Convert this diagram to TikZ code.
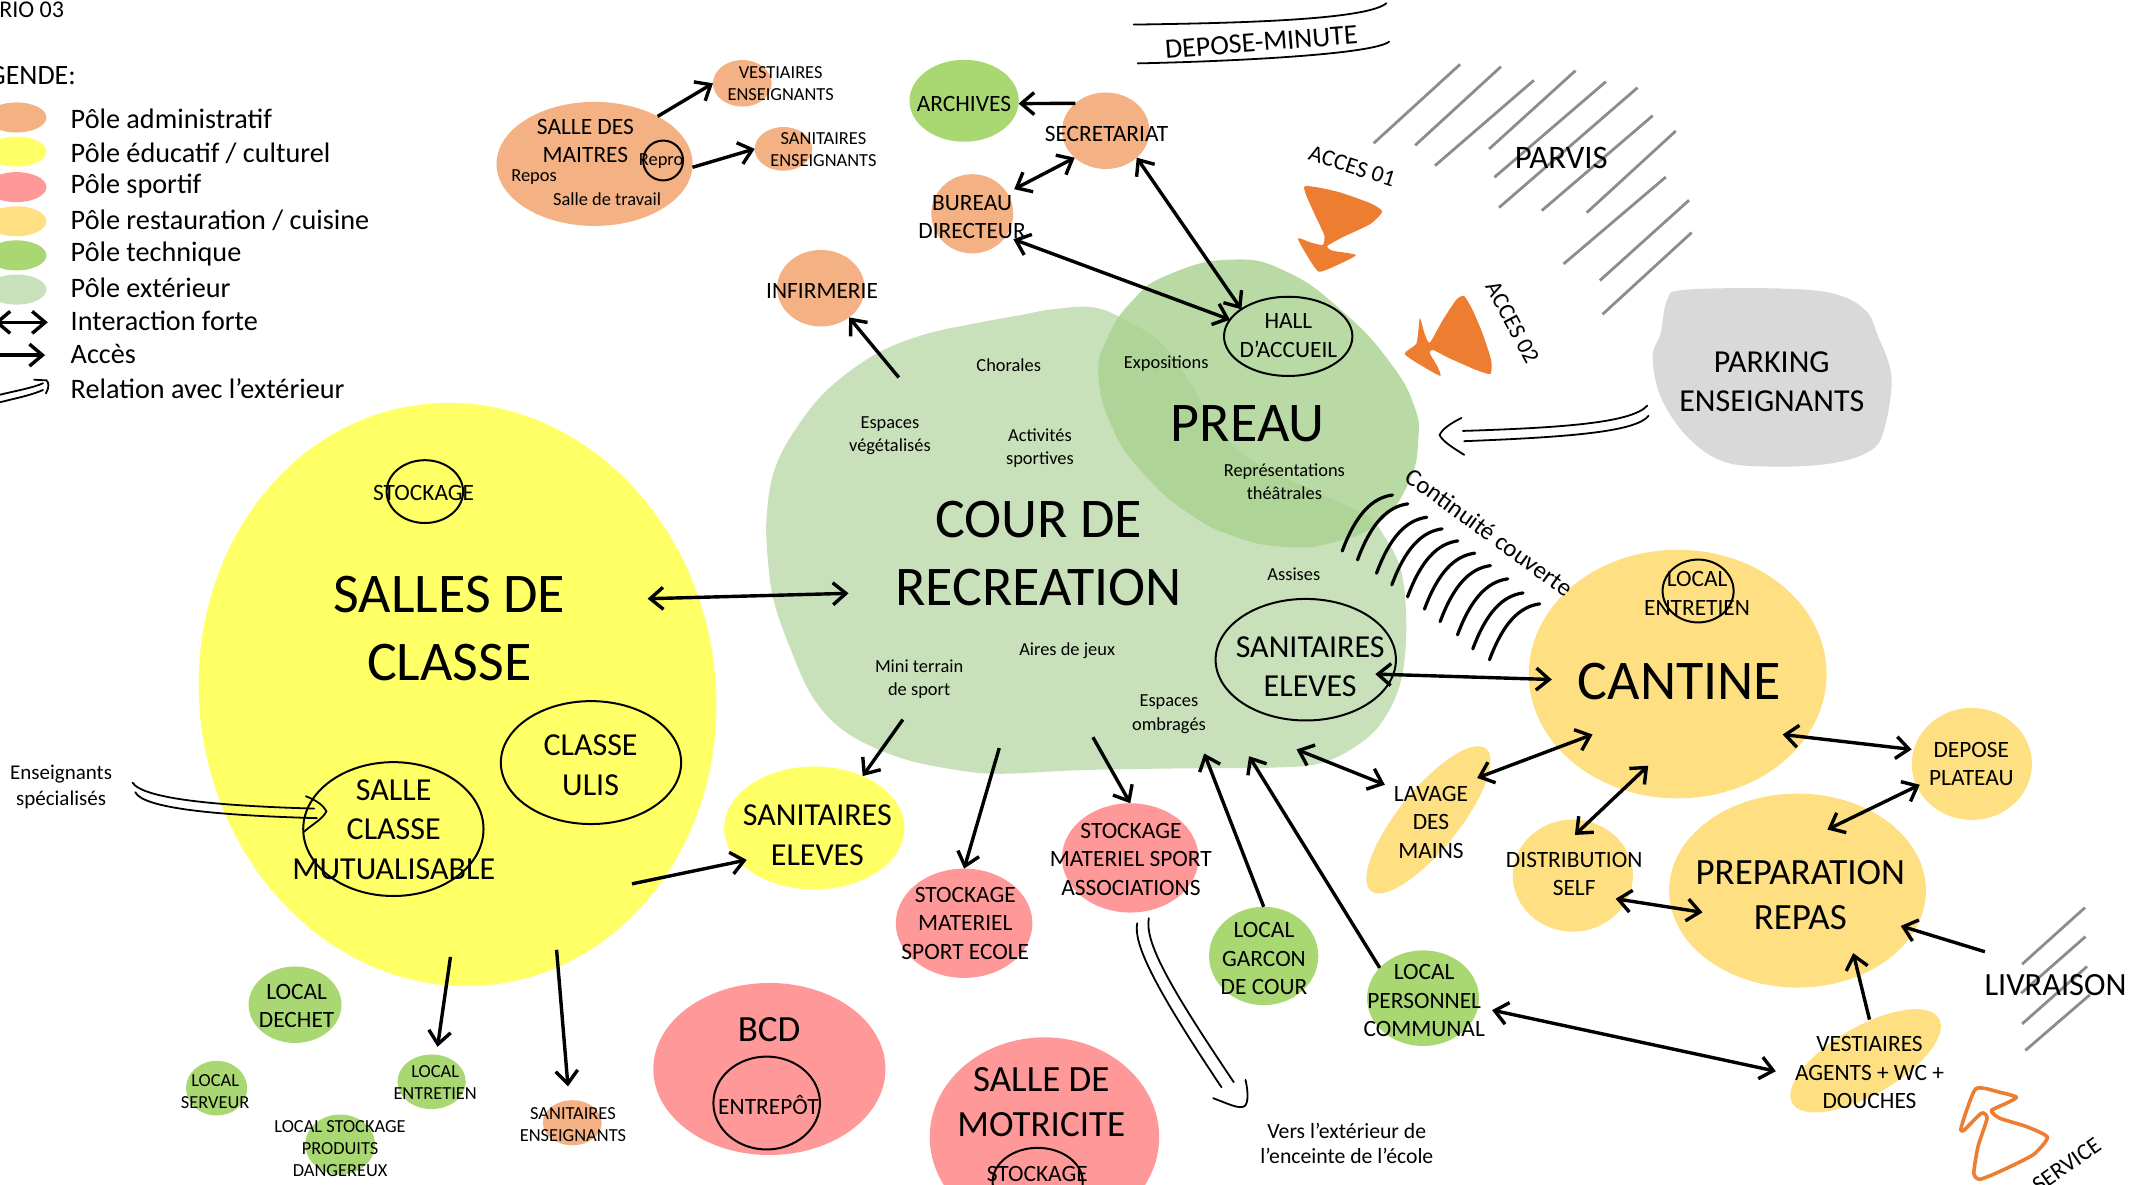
\documentclass[tikz,border=0pt]{standalone}
\usepackage{fontspec}
\setmainfont{Carlito}
\usetikzlibrary{shapes.geometric,arrows.meta}
\definecolor{cadm}{HTML}{F4B183}
\definecolor{cedu}{HTML}{FFFF66}
\definecolor{cspo}{HTML}{FF9999}
\definecolor{ccui}{HTML}{FEE083}
\definecolor{ctec}{HTML}{A9D873}
\definecolor{cext}{HTML}{C9E1BB}
\definecolor{cpre}{HTML}{A9D18E}
\definecolor{cpar}{HTML}{D9D9D9}
\definecolor{cora}{HTML}{ED7D31}
\definecolor{chat}{HTML}{8C8C8C}
\tikzset{
  >={Straight Barb[length=6.5pt,width=11pt]},
  blobst/.style={shape=ellipse,inner sep=0pt,outer sep=0pt,draw=none},
  ringst/.style={shape=ellipse,inner sep=0pt,outer sep=0pt,draw=black,line width=1pt,fill=none},
  txt/.style={inner sep=0pt,align=center,text=black},
  tbig/.style={txt,font=\fontsize{28}{34}\selectfont},
  tlarge/.style={txt,font=\fontsize{18.5}{22.5}\selectfont},
  tmed/.style={txt,font=\fontsize{16}{19.8}\selectfont},
  tsm/.style={txt,font=\fontsize{11.7}{14.2}\selectfont},
  txs/.style={txt,font=\fontsize{9.2}{11}\selectfont},
  tleg/.style={txt,anchor=west,font=\fontsize{14.1}{16}\selectfont},
  arr/.style={->,line width=1.7pt},
  darr/.style={<->,line width=1.7pt},
  dbl/.style={line width=.9pt,line cap=round},
  hatchl/.style={chat,line width=1.4pt},
  arc/.style={line width=1.6pt,line cap=round},
}
\newcommand{\blob}[6]{\node[blobst,fill=#6,minimum width={2*#4*0.683pt},minimum height={2*#5*0.683pt}] (#1) at (#2,#3) {};}
\newcommand{\rblob}[7]{\node[blobst,fill=#6,rotate=#7,minimum width={2*#4*0.683pt},minimum height={2*#5*0.683pt}] (#1) at (#2,#3) {};}
\newcommand{\ring}[5]{\node[ringst,minimum width={2*#4*0.683pt},minimum height={2*#5*0.683pt}] (#1) at (#2,#3) {};}
\begin{document}
\begin{tikzpicture}[x=0.683pt,y=-0.683pt]
\useasboundingbox (0,0) rectangle (1562.4,866.9);
\clip (0,0) rectangle (1562.4,866.9);
% ---------- legend
\node[tleg,font=\fontsize{12}{14}\selectfont] (tscen) at (-11,7) {ARIO 03};
\node[tleg,font=\fontsize{14}{16}\selectfont] (tleg0) at (-9,55) {GENDE:};
\blob{l1}{12}{86}{22}{11}{cadm}
\blob{l2}{12}{111}{22}{11}{cedu}
\blob{l3}{12}{137}{22}{11}{cspo}
\blob{l4}{12}{162}{22}{11}{ccui}
\blob{l5}{12}{187}{22}{11}{ctec}
\blob{l6}{12}{212}{22}{11}{cext}
\node[tleg] (tl1) at (51.5,87) {Pôle administratif};
\node[tleg] (tl2) at (51.5,112) {Pôle éducatif / culturel};
\node[tleg] (tl3) at (51.5,136.5) {Pôle sportif};
\node[tleg] (tl4) at (51.5,161) {Pôle restauration / cuisine};
\node[tleg] (tl5) at (51.5,186) {Pôle technique};
\node[tleg] (tl6) at (51.5,210.5) {Pôle extérieur};
\node[tleg] (tl7) at (51.5,235) {Interaction forte};
\node[tleg] (tl8) at (51.5,259.5) {Accès};
\node[tleg] (tl9) at (51.5,284.5) {Relation avec l’extérieur};
\coordinate (la1) at (-4,236); \coordinate (la2) at (35,236);
\coordinate (lb1) at (-10,260); \coordinate (lb2) at (33,260);
\draw[darr] (la1) -- (la2);
\draw[arr] (lb1) -- (lb2);
\coordinate (lc1) at (0,289); \coordinate (lc2) at (31.5,280.6);
\coordinate (lc3) at (0,294.5); \coordinate (lc4) at (31.5,285.5);
\draw[dbl] (lc1) .. controls (12,286) and (24,284) .. (lc2);
\draw[dbl] (lc3) .. controls (12,291.5) and (24,289) .. (lc4);
\draw[dbl] (25,278) -- (34,278.5) .. controls (36,280) and (36,284) .. (33.6,288);
% ---------- big exterior shapes
\fill[cext] plot[smooth cycle,tension=.6] coordinates {(799,224.8)(768.8,226.7)(747.5,230.6)(712,237.1)(676.5,245)(641,259.3)(605.6,285.5)(580.7,316.9)(566.5,345.6)(561.2,379.6)(562.3,411)(566.5,439.7)(577.2,471.1)(594.9,510.3)(619.8,536.4)(658.8,554.7)(701.4,563.9)(733.3,566.5)(790,563.9)(861,562.6)(932,562)(967.5,558.6)(995.8,544.3)(1013.6,526)(1026,497.2)(1029.6,458)(1026,418.8)(1013.6,392.7)(999.4,377)(960.4,358.7)(917.8,337.8)(889.4,311.6)(871.7,280.3)(850.4,251.5)(822,233.2)};
\fill[cpre,opacity=.8] plot[smooth cycle,tension=.8] coordinates {(804.2,275)(811.3,246.3)(829.1,220.1)(853.9,201.8)(900.1,190.1)(942.6,199.2)(985.2,230)(1017.1,264.6)(1034.9,295.9)(1038.4,322.1)(1031.3,353.5)(1010,382.2)(978.1,396.6)(942.6,400.5)(903.6,392.7)(868.1,374.4)(836.2,345.6)(814.9,314.2)};
\fill[cpar] plot[smooth cycle,tension=.6] coordinates {(1215.8,244)(1220.6,219.6)(1232.7,212.3)(1297.9,211.1)(1341.3,214.7)(1365.5,226.9)(1375.1,246.4)(1384.8,275.7)(1380,312.3)(1370.3,329.4)(1341.3,339.2)(1297.9,341.6)(1261.7,337.9)(1235.1,319.6)(1215.8,290.4)(1210,261.1)};
% orange access shapes
\fill[cora] plot[smooth cycle,tension=.35] coordinates {(955,136.6)(979.1,140.3)(1003.3,148.8)(1012,154.9)(1003.3,164)(984,173.2)(971.9,180)(975.3,183.5)(992.7,186.7)(979.1,194)(965.6,198.9)(957.4,187.9)(950.2,174.5)(959.8,177.6)(968.5,179.3)(969.5,172)(962.2,156.2)};
\fill[cora] plot[smooth cycle,tension=.35] coordinates {(1071.9,216.7)(1078.1,226.9)(1085.4,244)(1091.7,263.5)(1091.2,273.8)(1080.6,270.8)(1061.2,262.3)(1049.2,256.2)(1046.8,258.6)(1052.5,268.4)(1054.5,275.2)(1041.9,268.4)(1028.4,259.1)(1037.1,251.3)(1039.5,233)(1042.9,244)(1046.8,250.8)(1056.4,234.2)(1066.1,219.6)};
% hatch
\foreach \a/\b/\c/\d in {1005.7/104.9/1069/47.1,1036.1/106.4/1098.9/48.8,1050.6/121.3/1123/58.8,1090.2/109.1/1153.5/51.7,1094.1/129.8/1175.7/59.8,1097.5/152/1198.9/64.2,1128.8/154.2/1210/84.7,1161.7/155.7/1226.9/95.9,1144.8/193.2/1219.6/129.6,1171.3/205.4/1236.6/146.6,1173.3/230.1/1238.5/170.3,1480.5/705.9/1526.5/664.5,1479.7/727.2/1526.9/685.7,1480.5/749.6/1528/707.6,1482.8/769.1/1530/728.4}
  \draw[hatchl] (\a,\b) -- (\c,\d);
% ---------- blobs measured in full-size crops
\blob{maitres}{435.3}{120}{71.8}{45.4}{cadm}
\blob{vest}{543.5}{61}{21.5}{17}{cadm}
\blob{sanens}{573.6}{109}{21}{16}{cadm}
\blob{inf}{601}{211}{32}{28}{cadm}
\blob{dechet}{216}{735.6}{34}{28}{ctec}
\blob{serv}{158.6}{796.7}{22.4}{20}{ctec}
\blob{ent2}{316}{792}{25}{20}{ctec}
\blob{prod}{249}{838}{25.5}{22}{ctec}
\blob{sanens2}{419}{822}{21.5}{16.5}{cadm}
\begin{scope}[scale=.997]
\blob{arch}{708}{74}{40}{30}{ctec}
\blob{secr}{812}{96}{32}{28}{cadm}
\blob{bur}{714}{157}{30}{29}{cadm}
\rblob{salles}{336}{510}{189}{214}{cedu}{8}
\blob{saneduc}{598}{608}{66}{45}{cedu}
\blob{stock1}{708}{678}{50}{40}{cspo}
\blob{stock2}{830}{630}{50}{40}{cspo}
\blob{bcd}{565}{785}{85}{63}{cspo}
\blob{motr}{767}{835}{84}{73}{cspo}
\blob{garc}{928}{702}{40}{36}{ctec}
\blob{perso}{1045}{733}{41}{35}{ctec}
\blob{cant}{1232}{495}{109}{91}{ccui}
\blob{prep}{1320}{654}{94}{71}{ccui}
\blob{dep}{1448}{561}{44}{41}{ccui}
\blob{dist}{1155}{643}{44}{41}{ccui}
\rblob{lav}{1049}{602}{67}{22}{ccui}{51}
\rblob{vagents}{1370}{779}{62}{25}{ccui}{30}
\end{scope}
% ---------- rings
\ring{rrepro}{485.5}{117.5}{14.6}{14.6}
\ring{rsan}{956}{483}{66}{44.5}
\ring{rmut}{288}{607}{66}{49}
\begin{scope}[scale=.997]
\ring{rhall}{946}{247}{47}{29}
\ring{rstock}{312}{361}{28}{23}
\ring{rulis}{434}{560}{66}{45}
\ring{rent}{563}{810}{39}{34}
\ring{rmot}{762}{868}{33}{25}
\ring{rcent}{1247}{434}{26}{23}
\end{scope}
% ---------- texts
\node[tsm] (t1) at (428.6,103) {SALLE DES\\MAITRES};
\node[txs] (t2) at (484,118) {Repro};
\node[txs] (t3) at (391,129.5) {Repos};
\node[txs] (t4) at (444.5,145.5) {Salle de travail};
\begin{scope}[scale=.994,yshift=-.7pt]
\node[txs] (t5) at (575,60.5) {VESTIAIRES\\ENSEIGNANTS};
\node[txs] (t6) at (606.5,109.5) {SANITAIRES\\ENSEIGNANTS};
\node[tsm] (t7) at (710,75.5) {ARCHIVES};
\node[tsm] (t8) at (815,97.5) {SECRETARIAT};
\node[tsm] (t9) at (716,159) {BUREAU\\DIRECTEUR};
\node[tsm] (t10) at (605.5,213.5) {INFIRMERIE};
\node[tsm,font=\fontsize{14}{16}\selectfont,rotate=4.5] (t11) at (929,30) {DEPOSE-MINUTE};
\node[tsm,rotate=-18] (t12) at (996,121.5) {ACCES 01};
\node[tsm,rotate=-62] (t13) at (1114,236.5) {ACCES 02};
\node[tsm,font=\fontsize{16.4}{19}\selectfont] (t14) at (1150,115.5) {PARVIS};
\node[tmed] (t15) at (1305,280) {PARKING\\ENSEIGNANTS};
\node[tsm] (t16) at (949,246) {HALL\\D’ACCUEIL};
\node[txs] (t17) at (859,267) {Expositions};
\node[txs] (t18) at (743,268) {Chorales};
\node[txs,font=\fontsize{9.2}{11.6}\selectfont] (t19) at (655.5,320) {Espaces\\végétalisés};
\node[txs,font=\fontsize{9.2}{11.6}\selectfont] (t20) at (766,329) {Activités\\sportives};
\node[tbig] (t21) at (919,311) {PREAU};
\node[txs,font=\fontsize{9.2}{11.6}\selectfont] (t22) at (946,354) {Représentations\\théâtrales};
\node[tbig] (t23) at (765,407) {COUR DE\\RECREATION};
\node[txs] (t24) at (953,422) {Assises};
\node[tmed] (t25) at (965,490) {SANITAIRES\\ELEVES};
\node[txs,font=\fontsize{9.2}{11.6}\selectfont] (t26) at (677,499) {Mini terrain\\de sport};
\node[txs] (t27) at (786,478) {Aires de jeux};
\node[txs,font=\fontsize{9.2}{11.6}\selectfont] (t28) at (861,525) {Espaces\\ombragés};
\node[tsm,rotate=-36,font=\fontsize{12.4}{14}\selectfont] (t29) at (1097,391) {Continuité couverte};
\node[tsm] (t30) at (1250,436) {LOCAL\\ENTRETIEN};
\node[tbig] (t31) at (1237,501) {CANTINE};
\node[tsm] (t32) at (1452,561.5) {DEPOSE\\PLATEAU};
\node[tsm] (t33) at (1054,604.5) {LAVAGE\\DES\\MAINS};
\node[tsm] (t34) at (1159.5,642.5) {DISTRIBUTION\\SELF};
\node[tlarge] (t35) at (1326,658.5) {PREPARATION\\REPAS};
\node[tsm,font=\fontsize{16.2}{19}\selectfont] (t36) at (1514,724.5) {LIVRAISON};
\node[tsm] (t37) at (1377,789) {VESTIAIRES\\AGENTS + WC +\\DOUCHES};
\node[tsm] (t38) at (1049,736) {LOCAL\\PERSONNEL\\COMMUNAL};
\node[tsm] (t39) at (931,705) {LOCAL\\GARCON\\DE COUR};
\node[tsm] (t40) at (833,632) {STOCKAGE\\MATERIEL SPORT\\ASSOCIATIONS};
\node[tsm] (t41) at (711,679) {STOCKAGE\\MATERIEL\\SPORT ECOLE};
\node[tmed] (t42) at (602,614) {SANITAIRES\\ELEVES};
\node[tbig] (t43) at (331,462) {SALLES DE\\CLASSE};
\node[tsm] (t44) at (312,362) {STOCKAGE};
\node[tmed] (t45) at (435,562.5) {CLASSE\\ULIS};
\node[tmed] (t46) at (290,610) {SALLE\\CLASSE\\MUTUALISABLE};
\node[txs,font=\fontsize{10.5}{13}\selectfont] (t47) at (45,578.5) {Enseignants\\spécialisés};
\node[tsm] (t48) at (218.5,740) {LOCAL\\DECHET};
\node[txs] (t49) at (158.5,803) {LOCAL\\SERVEUR};
\node[txs] (t50) at (320.5,796) {LOCAL\\ENTRETIEN};
\node[txs] (t51) at (250.5,845) {LOCAL STOCKAGE\\PRODUITS\\DANGEREUX};
\node[txs] (t52) at (422,827) {SANITAIRES\\ENSEIGNANTS};
\node[tlarge] (t53) at (566.5,757) {BCD};
\node[tsm] (t54) at (566,813) {ENTREPÔT};
\node[tlarge] (t55) at (767,811) {SALLE DE\\MOTRICITE};
\node[tsm] (t56) at (764,864) {STOCKAGE};
\node[txs,font=\fontsize{10.85}{12.4}\selectfont] (t57) at (992,841) {Vers l’extérieur de\\l’enceinte de l’école};
\end{scope}
\node[tsm,rotate=35] (t58) at (1513,853) {SERVICE};
% ---------- named ends
\begin{scope}[scale=.994]
\coordinate (c-inf) at (662,278);
\coordinate (s-cour) at (477,441);
\coordinate (c-sal) at (625,437);
\coordinate (s-san) at (465.5,651);
\coordinate (c-san) at (665,530);
\coordinate (c-st1) at (736,551);
\coordinate (c-st2) at (805,543);
\coordinate (c-gar) at (887,555);
\coordinate (c-per) at (920,557);
\coordinate (c-lav) at (955,552);
\coordinate (l-cour) at (1020,578);
\coordinate (l-can) at (1088,573);
\coordinate (can-l) at (1173,541);
\coordinate (san-can) at (1013,496.5);
\coordinate (can-san) at (1143,500.5);
\coordinate (d-can) at (1160,615);
\coordinate (can-d) at (1214,564);
\coordinate (d-pre) at (1190,662);
\coordinate (pre-d) at (1254,672);
\coordinate (can-dep) at (1313,541);
\coordinate (dep-can) at (1408,552);
\coordinate (pre-dep) at (1346,611);
\coordinate (dep-pre) at (1414,578);
\coordinate (liv-s) at (1462,701);
\coordinate (liv-e) at (1400,682);
\coordinate (va-s) at (1377,751);
\coordinate (va-e) at (1365,702);
\coordinate (per-v) at (1099,744);
\coordinate (v-per) at (1308,789);
\end{scope}
\coordinate (s-ent) at (329.8,700.6);
\coordinate (s-ens) at (407.5,695.4);
% ---------- arrows
\draw[arr] (maitres.37) -- (vest.west);
\draw[arr] (maitres.-2) -- (sanens.west);
\draw[arr] (secr.138) -- (arch.-3);
\draw[darr,shorten <=4pt] (bur.31) -- (secr.221);
\draw[darr,shorten <=4pt] (bur.-34) -- (rhall.164);
\draw[darr] (secr.-41) -- (rhall.150);
\draw[arr] (c-inf) -- (inf.-46);
\draw[darr] (s-cour) -- (c-sal);
\draw[arr,shorten >=-4pt] (s-san) -- (saneduc.204);
\draw[arr,shorten >=4pt] (s-ent) -- (ent2.80);
\draw[arr,shorten >=7pt] (s-ens) -- (sanens2.98);
\draw[arr] (c-san) -- (saneduc.47);
\draw[arr] (c-st1) -- (stock1.north);
\draw[arr] (c-st2) -- (stock2.north);
\draw[arr] (garc.north) -- (c-gar);
\draw[arr] (perso.145) -- (c-per);
\draw[darr] (l-cour) -- (c-lav);
\draw[darr] (l-can) -- (can-l);
\draw[darr] (san-can) -- (can-san);
\draw[darr] (d-can) -- (can-d);
\draw[darr] (d-pre) -- (pre-d);
\draw[darr] (can-dep) -- (dep-can);
\draw[darr] (pre-dep) -- (dep-pre);
\draw[arr] (liv-s) -- (liv-e);
\draw[arr] (va-s) -- (va-e);
\draw[darr] (per-v) -- (v-per);
% ---------- outside relations
\coordinate (pk1) at (1206,297); \coordinate (pk2) at (1071,315.5);
\coordinate (pk3) at (1207,304.4); \coordinate (pk4) at (1072,323);
\draw[dbl] (pk1) .. controls (1195,309) and (1150,313) .. (pk2);
\draw[dbl] (pk3) .. controls (1198,316) and (1150,320) .. (pk4);
\draw[dbl] (1070,306) .. controls (1062,310) and (1056,314) .. (1054,318.5) .. controls (1056,323) and (1064,328) .. (1072,333);
\coordinate (en1) at (97,573); \coordinate (en2) at (230,592);
\coordinate (en3) at (99,580); \coordinate (en4) at (232,599);
\draw[dbl] (en1) .. controls (105,585) and (160,590) .. (en2);
\draw[dbl] (en3) .. controls (105,592) and (160,597) .. (en4);
\draw[dbl] (224,583) .. controls (232,586) and (237,590) .. (239,594) .. controls (236,600) and (228,604) .. (222.5,609);
\coordinate (st1) at (832.6,675.9); \coordinate (st2) at (894.3,796);
\coordinate (st3) at (841.1,672.2); \coordinate (st4) at (903.3,792.3);
\draw[dbl] (st1) .. controls (830,690) and (842,718) .. (st2);
\draw[dbl] (st3) .. controls (838,690) and (856,722) .. (st4);
\draw[dbl] (888.2,804) .. controls (900,808.5) and (907,812) .. (911,810) .. controls (914,808) and (914,800) .. (911.9,790.6);
\draw[dbl] (830,18) .. controls (900,17) and (1000,15) .. (1015,2.4);
\draw[dbl] (833,46.4) .. controls (900,45) and (1005,40) .. (1017,30.5);
% covered walkway
\foreach \a/\b in {982.7/403.4,993.9/409.9,1007.8/419.7,1019/428.2,1030.5/437,1042.9/446,1054.4/455.1,1067.1/464.8,1078.3/475.1,1090.5/483.1}
  \draw[arc] (\a,\b) .. controls (\a+10,\b-27) and (\a+22,\b-39) .. (\a+36.8,\b-41);
% bottom right
\draw[cora,line width=1.8pt,line join=round] plot[smooth cycle,tension=.35] coordinates {(1446.5,797.2)(1464.1,799.7)(1476.3,803.3)(1469,807.7)(1458,813.1)(1464.1,818.7)(1483.6,824.8)(1499,832.6)(1488.5,845.5)(1464.1,857.7)(1449.5,863.4)(1445.1,859)(1448.2,839.4)(1454.8,818.7)(1450.7,815)(1437.3,828)(1436,824.8)};
\draw[black!75,line width=1pt] (1204,880) rectangle (1544,868);
\end{tikzpicture}
\end{document}
